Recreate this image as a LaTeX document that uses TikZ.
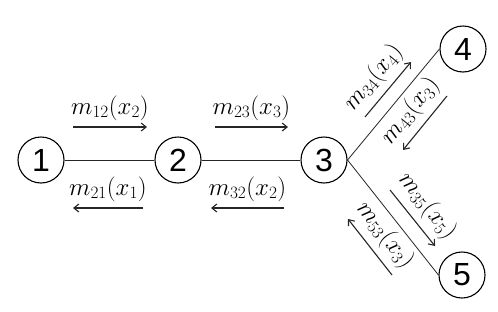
\documentclass[tikz,border=0pt]{standalone}
\usepackage{fontspec}
\setmainfont{Liberation Sans}
\usetikzlibrary{arrows.meta}
\begin{document}
\begin{tikzpicture}[x=1pt,y=-1pt,
  vert/.style={draw,circle,line width=1.1pt,minimum size=46pt,inner sep=0pt,font=\fontsize{32}{32}\selectfont},
  edge/.style={line width=0.8pt,draw=black!85},
  msg/.style={line width=1.1pt,draw=black!85,-{Straight Barb[length=5pt,width=8pt]}},
  lab/.style={font=\fontsize{23}{23}\selectfont,inner sep=1pt}]
\useasboundingbox (0,0) rectangle (498,311);
\node[vert] (n1) at (41,160) {1};
\node[vert] (n2) at (178,160) {2};
\node[vert] (n3) at (324,160) {3};
\node[vert] (n4) at (463,49) {4};
\node[vert] (n5) at (462,275) {5};
\draw[edge] (n1.east) -- (n2.west);
\draw[edge] (n2.east) -- (n3.west);
\draw[edge] (n3.east) -- (n4.west);
\draw[edge] (n3.east) -- (n5.west);
% messages
\coordinate (a1) at (73,127); \coordinate (b1) at (147,127);
\coordinate (a2) at (143,208); \coordinate (b2) at (73,208);
\coordinate (a3) at (215,127); \coordinate (b3) at (288,127);
\coordinate (a4) at (284,208); \coordinate (b4) at (211,208);
\coordinate (a5) at (365,117); \coordinate (b5) at (411,62);
\coordinate (a6) at (447,96); \coordinate (b6) at (403,150);
\coordinate (a7) at (390,190); \coordinate (b7) at (435,246);
\coordinate (a8) at (392,275); \coordinate (b8) at (348,219);
\draw[msg] (a1) -- node[lab,midway,sloped,above=5pt] {$m_{12}(x_2)$} (b1);
\draw[msg] (a2) -- node[lab,midway,sloped,above=5pt] {$m_{21}(x_1)$} (b2);
\draw[msg] (a3) -- node[lab,midway,sloped,above=5pt] {$m_{23}(x_3)$} (b3);
\draw[msg] (a4) -- node[lab,midway,sloped,above=5pt] {$m_{32}(x_2)$} (b4);
\draw[msg] (a5) -- node[lab,midway,sloped,above=5pt] {$m_{34}(x_4)$} (b5);
\draw[msg] (a6) -- node[lab,midway,sloped,above=5pt] {$m_{43}(x_3)$} (b6);
\draw[msg] (a7) -- node[lab,midway,sloped,above=5pt] {$m_{35}(x_5)$} (b7);
\draw[msg] (a8) -- node[lab,midway,sloped,above=5pt] {$m_{53}(x_3)$} (b8);
\end{tikzpicture}
\end{document}
